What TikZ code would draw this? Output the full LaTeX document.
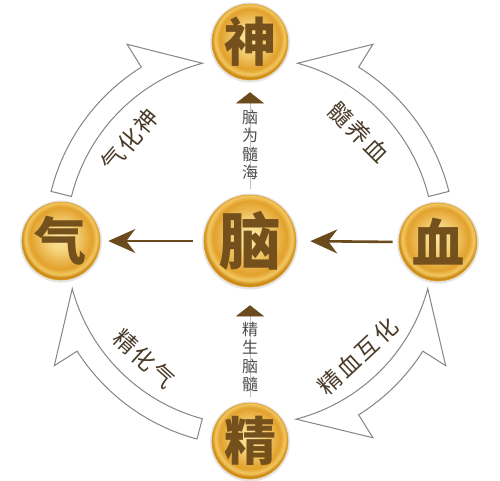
\documentclass[tikz,border=0pt]{standalone}
\usepackage{fontspec}
\newfontfamily\cjk{Noto Sans CJK SC}
\newfontfamily\cjksp{Noto Sans CJK SC}[LetterSpace=10]
\usetikzlibrary{arrows.meta}
\definecolor{gA}{HTML}{FBEAA8}
\definecolor{gB}{HTML}{F5D27A}
\definecolor{gC}{HTML}{E2A12C}
\definecolor{gD}{HTML}{F2C862}
\definecolor{gE}{HTML}{CC8A16}
\definecolor{brownc}{HTML}{6B4A1E}
\definecolor{charc}{HTML}{73501C}
\definecolor{lblc}{HTML}{4A3B28}
\definecolor{vtxt}{HTML}{505050}
\definecolor{outl}{HTML}{858585}
\pgfdeclareradialshading{goldball}{\pgfpoint{0bp}{3bp}}{color(0bp)=(gA); color(9bp)=(gB); color(20bp)=(gC); color(23bp)=(gD); color(25bp)=(gE); color(50bp)=(gE)}
\tikzset{
  ball/.style={circle, minimum size=#1, inner sep=0pt, shading=goldball, draw=gC, line width=0.6pt, text=charc},
  bigchar/.style={font=\cjk\bfseries\fontsize{52}{52}\selectfont},
  harrow/.style={draw=brownc, line width=2.6pt, -{Stealth[length=27pt, width=24pt, inset=9pt]}},
  varrow/.style={draw=black!25, line width=0.5pt, -{Triangle[length=11pt, width=28pt, color=brownc]}},
  vlabel/.style={font=\cjk\fontsize{16}{18.5}\selectfont, text=vtxt, align=center, inner sep=0pt},
  arclbl/.style={font=\cjksp\fontsize{23}{23}\selectfont, text=lblc, inner sep=0pt},
  carrow/.style={draw=outl, line width=1pt, fill=white, line join=miter},
  halo/.style={fill=black!10}
}
\begin{document}
\begin{tikzpicture}[x=1pt,y=1pt]
\useasboundingbox[fill=white] (-250,-239) rectangle (250,241);
% curved hollow arrows
\draw[carrow] (166:205) arc[start angle=166, end angle=122, radius=205] -- (122:232) -- (105:184) arc[start angle=105, end angle=166, radius=184] -- cycle;
\draw[carrow] (14:205) arc[start angle=14, end angle=58, radius=205] -- (58:232) -- (75:184) arc[start angle=75, end angle=14, radius=184] -- cycle;
\draw[carrow] (255:205) arc[start angle=255, end angle=212.5, radius=205] -- (212.5:232) -- (195:184) arc[start angle=195, end angle=255, radius=184] -- cycle;
\draw[carrow] (-15:184) -- (-32.5:232) -- (-32.5:205) arc[start angle=-32.5, end angle=-58, radius=205] -- (-58:232) -- (-75.5:184) arc[start angle=-75.5, end angle=-15, radius=184] -- cycle;
% arc labels
\node[arclbl, rotate=50] (l1) at (140:157) {气化神};
\node[arclbl, rotate=-45] (l2) at (45:154) {髓养血};
\node[arclbl, rotate=-42] (l3) at (228:158) {精化气};
\node[arclbl, rotate=43] (l4) at (-47:158) {精血互化};
% halos
\fill[halo] (0,198.5) circle (40);
\fill[halo] (-189,-0.5) circle (41);
\fill[halo] (0,-0.5) circle (48);
\fill[halo] (188,-1.5) circle (41);
\fill[halo] (0,-200.5) circle (40);
% balls
\node[ball=76pt, bigchar] (shen) at (0,199) {神};
\node[ball=78pt, bigchar] (qi) at (-189,0) {气};
\node[ball=92pt, bigchar, font=\cjk\bfseries\fontsize{62}{62}\selectfont] (nao) at (0,0) {脑};
\node[ball=78pt, bigchar] (xue) at (188,-1) {血};
\node[ball=76pt, bigchar] (jing) at (0,-200) {精};
% straight arrows
\draw[harrow, shorten <=6pt, shorten >=14pt] (xue.west) -- (nao.east);
\draw[harrow, shorten <=11pt, shorten >=8pt] (nao.west) -- (qi.east);
\draw[varrow, shorten <=6pt, shorten >=12pt] (nao.north) -- (shen.south);
\draw[varrow, shorten <=6pt, shorten >=18pt] (jing.north) -- (nao.south);
% vertical labels
\node[vlabel] (v1) at (0,96) {脑\\为\\髓\\海};
\node[vlabel] (v2) at (0,-116) {精\\生\\脑\\髓};
\end{tikzpicture}
\end{document}
